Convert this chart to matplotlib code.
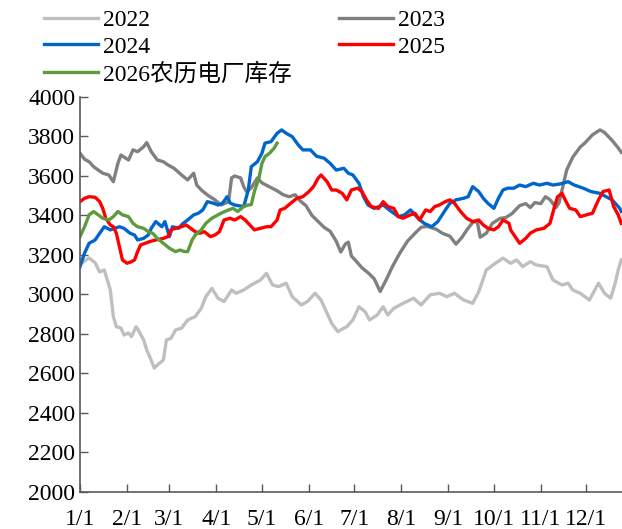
import numpy as np
import matplotlib
matplotlib.use('Agg')
import matplotlib.pyplot as plt

plt.rcParams['font.family'] = ['Liberation Serif', 'Noto Sans CJK SC']

# day of year (0 = 1/1) and stock values
d2022 = [0, 3, 6, 10, 13, 16, 20, 22, 24, 27, 29, 32, 34, 37, 39, 42, 44, 46, 49, 51,
         55, 57, 60, 63, 67, 71, 76, 80, 83, 87, 91, 95, 100, 103, 108, 113, 119, 123,
         127, 131, 136, 140, 146, 150, 155, 159, 166, 170, 173, 176, 180, 184, 188, 191,
         196, 200, 203, 207, 213, 220, 225, 231, 237, 242, 247, 253, 259, 263, 268, 274,
         279, 284, 288, 292, 297, 301, 308, 312, 318, 322, 325, 330, 336, 342, 346, 350,
         353, 355, 357]
v2022 = [3150, 3170, 3185, 3160, 3114, 3124, 3023, 2888, 2837, 2830, 2795, 2805, 2787,
         2837, 2812, 2770, 2719, 2685, 2627, 2643, 2668, 2770, 2778, 2820, 2829, 2871,
         2888, 2930, 2989, 3031, 2981, 2964, 3023, 3006, 3023, 3048, 3073, 3107, 3048,
         3040, 3057, 2989, 2947, 2964, 3006, 2972, 2854, 2812, 2825, 2837, 2871, 2938,
         2913, 2871, 2896, 2938, 2896, 2930, 2955, 2981, 2947, 2998, 3006, 2989, 3006,
         2972, 2955, 3014, 3124, 3158, 3184, 3158, 3175, 3141, 3166, 3149, 3141, 3073,
         3048, 3057, 3023, 3006, 2972, 3057, 3006, 2981, 3057, 3124, 3175]

d2023 = [0, 3, 6, 9, 12, 15, 19, 22, 25, 27, 32, 35, 38, 42, 44, 47, 51, 55, 58, 62,
         67, 71, 75, 77, 80, 84, 89, 93, 96, 98, 100, 102, 106, 108, 110, 113, 117, 120,
         125, 130, 134, 138, 142, 145, 149, 153, 157, 161, 165, 169, 172, 175, 177, 179,
         182, 186, 190, 194, 198, 202, 206, 211, 216, 221, 225, 229, 235, 239, 244, 248,
         252, 255, 259, 262, 264, 268, 272, 277, 281, 285, 290, 294, 297, 300, 304, 307,
         310, 314, 316, 318, 321, 325, 330, 333, 338, 343, 346, 351, 355, 357]
v2023 = [3715, 3685, 3672, 3647, 3630, 3614, 3605, 3571, 3664, 3706, 3681, 3732, 3723,
         3748, 3769, 3723, 3681, 3672, 3656, 3639, 3605, 3580, 3614, 3554, 3529, 3504,
         3479, 3453, 3462, 3470, 3590, 3600, 3590, 3545, 3520, 3540, 3590, 3565, 3545,
         3525, 3505, 3495, 3505, 3475, 3450, 3400, 3370, 3340, 3320, 3270, 3215, 3255,
         3265, 3195, 3170, 3135, 3110, 3080, 3015, 3075, 3140, 3210, 3270, 3310, 3340,
         3345, 3330, 3310, 3295, 3255, 3290, 3325, 3365, 3370, 3290, 3310, 3360, 3385,
         3390, 3410, 3450, 3460, 3440, 3465, 3460, 3495, 3480, 3440, 3465, 3530, 3630,
         3695, 3747, 3767, 3808, 3833, 3820, 3780, 3742, 3720]

d2024 = [0, 3, 6, 10, 13, 16, 20, 23, 26, 29, 33, 36, 38, 42, 45, 47, 50, 54, 56, 59,
         61, 65, 68, 71, 75, 78, 81, 84, 88, 91, 94, 97, 99, 102, 108, 111, 113, 117,
         120, 122, 126, 130, 133, 136, 140, 144, 147, 152, 156, 161, 165, 169, 174, 177,
         180, 184, 187, 190, 194, 200, 204, 210, 214, 218, 223, 227, 232, 236, 241, 244,
         248, 253, 256, 259, 263, 266, 269, 273, 276, 279, 282, 286, 290, 294, 299, 303,
         308, 312, 317, 322, 326, 332, 337, 343, 347, 351, 356, 357]
v2024 = [3141, 3209, 3259, 3276, 3310, 3343, 3327, 3335, 3343, 3335, 3310, 3301, 3276,
         3284, 3301, 3335, 3369, 3343, 3369, 3293, 3343, 3335, 3360, 3377, 3403, 3411,
         3428, 3470, 3462, 3453, 3462, 3495, 3463, 3453, 3445, 3529, 3647, 3672, 3715,
         3766, 3774, 3816, 3833, 3816, 3799, 3757, 3732, 3732, 3700, 3690, 3664, 3630,
         3639, 3614, 3605, 3563, 3495, 3453, 3436, 3453, 3428, 3394, 3403, 3428, 3386,
         3360, 3343, 3369, 3428, 3462, 3479, 3487, 3495, 3546, 3521, 3487, 3462, 3436,
         3487, 3529, 3538, 3538, 3554, 3546, 3563, 3554, 3563, 3554, 3560, 3571, 3554,
         3538, 3521, 3512, 3495, 3479, 3436, 3420]

d2025 = [0, 3, 6, 10, 13, 15, 17, 20, 22, 24, 26, 28, 31, 34, 36, 38, 40, 43, 46, 50,
         55, 58, 60, 63, 67, 70, 73, 76, 79, 82, 86, 89, 92, 95, 99, 102, 106, 109, 112,
         115, 119, 123, 126, 130, 132, 135, 139, 143, 147, 151, 154, 157, 159, 163, 166,
         169, 173, 176, 179, 183, 186, 189, 192, 197, 200, 203, 207, 210, 213, 218, 221,
         224, 228, 231, 234, 237, 241, 244, 247, 251, 255, 259, 263, 266, 269, 273, 276,
         279, 283, 284, 287, 290, 294, 297, 301, 306, 310, 313, 315, 318, 320, 323, 327,
         330, 334, 338, 342, 345, 349, 352, 355, 357]
v2025 = [3470, 3487, 3495, 3492, 3470, 3436, 3386, 3352, 3343, 3310, 3242, 3175, 3158,
         3166, 3175, 3217, 3251, 3259, 3268, 3276, 3284, 3293, 3327, 3335, 3343, 3352,
         3335, 3318, 3310, 3318, 3293, 3301, 3318, 3377, 3386, 3377, 3394, 3377, 3352,
         3327, 3335, 3343, 3343, 3377, 3428, 3436, 3462, 3487, 3495, 3521, 3546, 3588,
         3605, 3571, 3529, 3529, 3512, 3479, 3529, 3538, 3521, 3479, 3445, 3436, 3470,
         3445, 3436, 3394, 3386, 3403, 3411, 3377, 3428, 3420, 3445, 3453, 3470, 3479,
         3462, 3420, 3386, 3369, 3377, 3352, 3335, 3327, 3343, 3377, 3360, 3327, 3293,
         3259, 3284, 3310, 3327, 3335, 3360, 3445, 3495, 3512, 3479, 3436, 3428, 3394,
         3403, 3411, 3479, 3521, 3529, 3445, 3403, 3360]

d2026 = [0, 3, 6, 9, 12, 15, 19, 22, 25, 28, 32, 35, 38, 42, 45, 48, 51, 55, 59, 63,
         66, 69, 71, 74, 76, 80, 83, 87, 91, 94, 98, 101, 104, 108, 111, 113, 115, 118,
         120, 122, 125, 128, 130]
v2026 = [3293, 3343, 3403, 3420, 3403, 3386, 3377, 3394, 3420, 3403, 3394, 3360, 3343,
         3335, 3318, 3310, 3284, 3259, 3234, 3217, 3225, 3217, 3217, 3276, 3301, 3327,
         3360, 3386, 3403, 3415, 3428, 3436, 3420, 3445, 3453, 3455, 3521, 3588, 3664,
         3698, 3715, 3740, 3766]

month_days = [0, 31, 59, 90, 120, 151, 181, 212, 243, 273, 304, 334]
month_labels = ['1/1', '2/1', '3/1', '4/1', '5/1', '6/1', '7/1', '8/1', '9/1',
                '10/1', '11/1', '12/1']

series = [(d2022, v2022, '2022', '#BFBFBF'),
          (d2023, v2023, '2023', '#808080'),
          (d2024, v2024, '2024', '#0066CC'),
          (d2025, v2025, '2025', '#FF0000'),
          (d2026, v2026, '2026农历电厂库存', '#5E9B3C')]

fig = plt.figure(figsize=(6.22, 5.29), dpi=100)
ax = fig.add_axes([0.1286, 0.070, 0.8714, 0.7467])

lines = []
for d, v, lab, col in series:
    ln, = ax.plot(d, v, color=col, lw=2.4, label=lab, solid_joinstyle='round')
    lines.append(ln)

ax.set_xlim(0, 357.5)
ax.set_ylim(2000, 4000)
ax.set_yticks(np.arange(2000, 4001, 200))
ax.set_xticks(month_days)
ax.set_xticklabels(month_labels)
ax.tick_params(direction='in', length=6, width=1, color='#595959', labelsize=17)
ax.tick_params(axis='x', pad=12)
for s in ['top', 'right']:
    ax.spines[s].set_visible(False)
for s in ['left', 'bottom']:
    ax.spines[s].set_color('#595959')
    ax.spines[s].set_linewidth(1.2)

# legend filled row by row: 2022 2023 / 2024 2025 / 2026
order = [0, 2, 4, 1, 3]
fig.legend([lines[i] for i in order], [series[i][2] for i in order],
           loc='upper left', bbox_to_anchor=(0.055, 1.0), ncol=2, frameon=False,
           fontsize=17, handlelength=2.3, handletextpad=0.2, labelspacing=0.22,
           columnspacing=2.0, borderaxespad=0)

fig.savefig('out.png', dpi=100)
